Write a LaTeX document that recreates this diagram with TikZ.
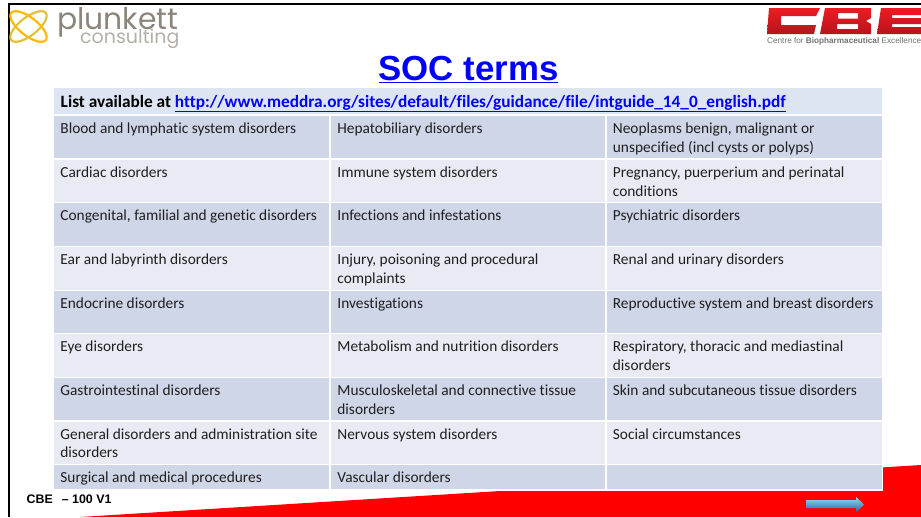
\documentclass[tikz,border=0pt]{standalone}
\usepackage{fontspec}
\setmainfont[Ligatures=NoCommon]{Carlito}
\newfontfamily\arialf{Liberation Sans}
\newfontfamily\logof[Ligatures=NoCommon]{Poppins}
\definecolor{rowa}{HTML}{CFD6E7}
\definecolor{rowb}{HTML}{E8EBF3}
\definecolor{headc}{HTML}{DCE5F1}
\definecolor{linkb}{HTML}{0000FF}
\definecolor{logog}{HTML}{8C857B}
\definecolor{cbetop}{HTML}{EC1C24}
\definecolor{cbebot}{HTML}{B5141B}
\tikzset{
 celltxt/.style={anchor=north west,inner sep=0pt,font=\fontsize{15.37}{18.7}\selectfont,text=black!88,align=left},
 cbeshade/.style={top color=cbetop,bottom color=cbebot,draw=none},
}
\newcommand{\tcell}[7]{% name x y w h colour text
 \fill[#6] (#2,#3) rectangle ++(#4,#5);
 \node[celltxt] (#1) at ({#2+6.2},{#3+6.8}) {#7};
}
\begin{document}
\begin{tikzpicture}[x=1pt,y=-1pt]
\useasboundingbox (0,0) rectangle (921,517);
\fill[white] (0,0) rectangle (921,517);
% red wedge
\fill[red] (80,517) -- (921,465) -- (921,517) -- cycle;
% frame
\draw[black,line width=2pt] (8.5,517) -- (8.5,4) -- (921,4);
% plunkett logo
\draw[color=orange!55!yellow,line width=2.2pt,rotate around={-38:(28.5,26.5)}] (28.5,26.5) ellipse (22 and 9);
\draw[color=yellow!50!brown,line width=2.2pt,rotate around={38:(28.5,26.5)}] (28.5,26.5) ellipse (22 and 9);
\node[anchor=base west,inner sep=0pt,font=\logof\fontsize{29.8}{29}\selectfont,text=logog] (plk) at (57,29) {\smash{plunkett}};
\node[anchor=base west,inner sep=0pt,font=\logof\fontsize{19}{19}\selectfont,text=logog!65] (cons) at (80,43.5) {\smash{consulting}};
% CBE logo
\shade[cbeshade,even odd rule] (769,8) -- (820,8) -- (816,16) -- (781,16) -- (781,25) -- (816,25) -- (814,34) -- (767,34) -- cycle;
\shade[cbeshade,even odd rule] (825,8) -- (871,8) -- (871,18) -- (866,21) -- (871,24) -- (871,34) -- (820,34) -- cycle (838,13) rectangle (858,18.5) (837,24) rectangle (858,29);
\shade[cbeshade] (881,8) -- (921,8) -- (921,15) -- (892,15) -- (892,18) -- (921,18) -- (921,24) -- (892,24) -- (892,27) -- (921,27) -- (921,34) -- (877,34) -- cycle;
\node[anchor=base west,inner sep=0pt,font=\arialf\fontsize{8.2}{9}\selectfont,text=black!55] (cbet) at (767,43.5) {Centre for \textbf{Biopharmaceutical} Excellence};
% title
\node[anchor=base,inner sep=0pt,font=\arialf\bfseries\fontsize{34.8}{35}\selectfont,text=linkb] (title) at (468.5,80) {\underline{SOC terms}};
% table backing
\fill[white] (54,86) rectangle (883,490.5);
% header
\fill[headc] (54,88) rectangle (882,114);
\node[anchor=base west,inner sep=0pt,font=\bfseries\fontsize{17.27}{18}\selectfont] (head) at (60.5,107) {List available at \textcolor{linkb}{\underline{http://www.meddra.org/sites/default/files/guidance/file/intguide\_14\_0\_english.pdf}}};
% rows
\tcell{a1}{54}{116}{275}{42}{rowa}{Blood and lymphatic system disorders}
\tcell{b1}{331}{116}{274}{42}{rowa}{Hepatobiliary disorders}
\tcell{c1}{606.5}{116}{275.5}{42}{rowa}{Neoplasms benign, malignant or\\unspecified (incl cysts or polyps)}
\tcell{a2}{54}{160}{275}{42}{rowb}{Cardiac disorders}
\tcell{b2}{331}{160}{274}{42}{rowb}{Immune system disorders}
\tcell{c2}{606.5}{160}{275.5}{42}{rowb}{Pregnancy, puerperium and perinatal\\conditions}
\tcell{a3}{54}{203}{275}{43}{rowa}{Congenital, familial and genetic disorders}
\tcell{b3}{331}{203}{274}{43}{rowa}{Infections and infestations}
\tcell{c3}{606.5}{203}{275.5}{43}{rowa}{Psychiatric disorders}
\tcell{a4}{54}{247}{275}{43}{rowb}{Ear and labyrinth disorders}
\tcell{b4}{331}{247}{274}{43}{rowb}{Injury, poisoning and procedural\\complaints}
\tcell{c4}{606.5}{247}{275.5}{43}{rowb}{Renal and urinary disorders}
\tcell{a5}{54}{291}{275}{42}{rowa}{Endocrine disorders}
\tcell{b5}{331}{291}{274}{42}{rowa}{Investigations}
\tcell{c5}{606.5}{291}{275.5}{42}{rowa}{Reproductive system and breast disorders}
\tcell{a6}{54}{334}{275}{42.5}{rowb}{Eye disorders}
\tcell{b6}{331}{334}{274}{42.5}{rowb}{Metabolism and nutrition disorders}
\tcell{c6}{606.5}{334}{275.5}{42.5}{rowb}{Respiratory, thoracic and mediastinal\\disorders}
\tcell{a7}{54}{378}{275}{42}{rowa}{Gastrointestinal disorders}
\tcell{b7}{331}{378}{274}{42}{rowa}{Musculoskeletal and connective tissue\\disorders}
\tcell{c7}{606.5}{378}{275.5}{42}{rowa}{Skin and subcutaneous tissue disorders}
\tcell{a8}{54}{421.5}{275}{42.5}{rowb}{General disorders and administration site\\disorders}
\tcell{b8}{331}{421.5}{274}{42.5}{rowb}{Nervous system disorders}
\tcell{c8}{606.5}{421.5}{275.5}{42.5}{rowb}{Social circumstances}
\tcell{a9}{54}{465}{275}{24}{rowa}{Surgical and medical procedures}
\tcell{b9}{331}{465}{274}{24}{rowa}{Vascular disorders}
\fill[rowa] (606.5,465) rectangle (882,489);
% footer
\node[anchor=base west,inner sep=0pt,font=\arialf\bfseries\fontsize{12.4}{12}\selectfont] (foot) at (26.5,503) {CBE\hspace{9pt}– 100 V1};
% arrow
\shade[top color=blue!30!cyan!45!white,bottom color=blue!55!cyan!55!black!85,draw=none]
 (806,500) -- (856,500) -- (856,497) -- (864,504.5) -- (856,512.5) -- (856,508) -- (806,508) -- cycle;
\end{tikzpicture}
\end{document}
